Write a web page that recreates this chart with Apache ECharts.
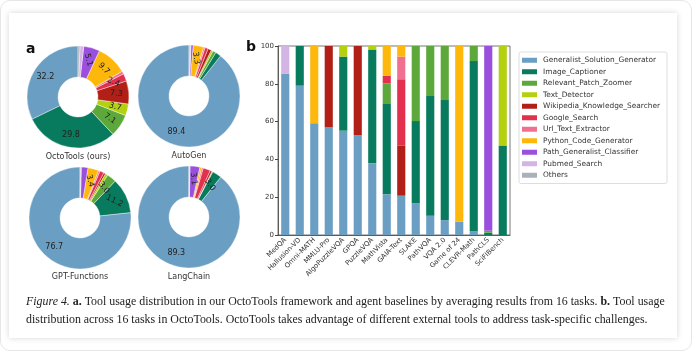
<!DOCTYPE html>
<html><head><meta charset="utf-8">
<script src="https://cdn.jsdelivr.net/npm/echarts@6/dist/echarts.min.js"></script>
<style>
html,body{margin:0;padding:0;background:#fff;width:694px;height:353px;overflow:hidden;}
#frame{position:absolute;left:0;top:0;width:690px;height:349px;border:1px solid #e6e6e6;border-radius:10px;}
#card{position:absolute;left:9px;top:13px;width:668px;height:325px;background:#fff;box-shadow:0 0 6px rgba(0,0,0,0.16);}
#chart{position:absolute;left:0;top:0;width:694px;height:353px;}
</style></head>
<body><div id="frame"></div><div id="card"></div><div id="chart"></div>
<script>
const tools = ['Generalist_Solution_Generator','Image_Captioner','Relevant_Patch_Zoomer','Text_Detector','Wikipedia_Knowledge_Searcher','Google_Search','Url_Text_Extractor','Python_Code_Generator','Path_Generalist_Classifier','Pubmed_Search','Others'];
const toolColors = ['#6a9ec2','#087a5d','#5ca83a','#b3d10e','#b11f16','#e2304e','#f2708f','#fdb80b','#9a4fdd','#d4b4e5','#a9b2ba'];

const agents = ['OctoTools (ours)','AutoGen','GPT-Functions','LangChain'];
const octoToolsShare    = [32.2, 29.8, 7.1, 3.7, 7.3, 2.4, 0.9, 9.7, 5.1, 1.2, 0.6];
const autoGenShare      = [89.4, 1.8, 1.0, 0.6, 1.1, 1.0, 0.5, 3.3, 0.7, 0.3, 0.3];
const gptFunctionsShare = [76.7, 11.2, 3.0, 0.8, 0.6, 1.3, 0.5, 3.4, 2.1, 0.2, 0.2];
const langChainShare    = [89.3, 3.0, 0.3, 0.0, 0.6, 2.3, 0.5, 0.6, 3.1, 0.2, 0.1];

const tasks = ['MedQA','Hallusion-VD','Omni-MATH','MMLU-Pro','AlgoPuzzleVQA','GPQA','PuzzleVQA','MathVista','GAIA-Text','SLAKE','PathVQA','VQA 2.0','Game of 24','CLEVR-Math','PathCLS','SciFIBench'];
const generalistByTask = [85.5, 79.0, 59.1, 57.0, 55.2, 52.9, 37.9, 21.5, 20.8, 16.8, 10.2, 7.9, 7.1, 2.1, 0, 0];
const captionerByTask  = [0, 21.0, 0, 0, 39.2, 0, 60.3, 47.8, 0, 43.5, 63.3, 63.5, 0, 89.9, 1.2, 47.4];
const zoomerByTask     = [0, 0, 0, 0, 0, 0, 0, 10.9, 0, 39.7, 26.5, 28.6, 0, 8.0, 1.0, 0];
const detectorByTask   = [0, 0, 0, 0, 5.6, 0, 1.8, 0, 0, 0, 0, 0, 0, 0, 0, 52.6];
const wikipediaByTask  = [0, 0, 0, 43.0, 0, 47.1, 0, 0, 26.6, 0, 0, 0, 0, 0, 0, 0];
const googleByTask     = [0, 0, 0, 0, 0, 0, 0, 4.1, 35.0, 0, 0, 0, 0, 0, 0, 0];
const urlByTask        = [0, 0, 0, 0, 0, 0, 0, 0, 12.0, 0, 0, 0, 0, 0, 0, 0];
const pythonByTask     = [0, 0, 40.9, 0, 0, 0, 0, 15.7, 5.6, 0, 0, 0, 92.9, 0, 0, 0];
const pathClsByTask    = [0, 0, 0, 0, 0, 0, 0, 0, 0, 0, 0, 0, 0, 0, 97.8, 0];
const pubmedByTask     = [14.5, 0, 0, 0, 0, 0, 0, 0, 0, 0, 0, 0, 0, 0, 0, 0];
const othersByTask     = [0, 0, 0, 0, 0, 0, 0, 0, 0, 0, 0, 0, 0, 0, 0, 0];
const yTicks = [0, 20, 40, 60, 80, 100];

const captionLine1 = '{i|Figure 4.} {b|a.} Tool usage distribution in our OctoTools framework and agent baselines by averaging results from 16 tasks. {b|b.} Tool usage';
const captionLine2 = 'distribution across 16 tasks in OctoTools. OctoTools takes advantage of different external tools to address task-specific challenges.';

const byTask = [generalistByTask, captionerByTask, zoomerByTask, detectorByTask, wikipediaByTask, googleByTask, urlByTask, pythonByTask, pathClsByTask, pubmedByTask, othersByTask];
const shares = [octoToolsShare, autoGenShare, gptFunctionsShare, langChainShare];
const pieCenters = [[78, 97], [189, 96], [80, 218], [189, 217]];
const captionY = [157, 156, 277, 277];

function pieData(vals) {
  const total = vals.reduce((a, b) => a + b, 0);
  let cum = 0;
  return vals.map((v, i) => {
    const mid = 90 + (cum + v / 2) / total * 360;
    cum += v;
    let th = ((mid + 180) % 360) - 180;
    const show = v >= 2;
    const rot = v < 15 ? -Math.abs(th) : 0;
    return {name: tools[i], value: v, itemStyle: {color: toolColors[i]},
      label: {show: show, rotate: rot}};
  });
}

const series = [];
shares.forEach((s, k) => {
  series.push({
    type: 'pie', name: agents[k], center: pieCenters[k], radius: [20, 51],
    startAngle: 90, clockwise: false, animation: false, silent: true,
    itemStyle: {borderColor: '#fff', borderWidth: 0.4},
    label: {position: 'inside', fontSize: 8, color: '#222', fontFamily: 'DejaVu Sans',
      formatter: p => p.value.toFixed(1)},
    labelLine: {show: false},
    data: pieData(s)
  });
});
tools.forEach((t, i) => {
  series.push({
    type: 'bar', name: t, stack: 'total', barWidth: '56%', animation: false,
    itemStyle: {color: toolColors[i]}, data: byTask[i]
  });
});

const capFont = 11.9;
const graphics = [
  {type: 'text', left: 26, top: 42, style: {text: 'a', font: 'bold 14px DejaVu Sans', fill: '#111'}},
  {type: 'text', left: 246, top: 40, style: {text: 'b', font: 'bold 14px DejaVu Sans', fill: '#111'}},
  {type: 'text', left: 26, top: 296, style: {text: captionLine1, font: capFont + 'px Liberation Serif', fill: '#222',
    rich: {i: {fontStyle: 'italic', fontSize: capFont, fontFamily: 'Liberation Serif'}, b: {fontWeight: 'bold', fontSize: capFont, fontFamily: 'Liberation Serif'}}}},
  {type: 'text', left: 26, top: 314, style: {text: captionLine2, font: capFont + 'px Liberation Serif', fill: '#222'}}
];
agents.forEach((a, k) => {
  graphics.push({type: 'text', x: pieCenters[k][0], y: captionY[k],
    style: {text: a, font: '8px DejaVu Sans', fill: '#333', align: 'center', verticalAlign: 'middle'}});
});

const chart = echarts.init(document.getElementById('chart'), null, {renderer: 'canvas'});
chart.setOption({
  backgroundColor: 'transparent',
  animation: false,
  textStyle: {fontFamily: 'DejaVu Sans'},
  grid: {left: 278, top: 46, width: 232, height: 189, show: true, borderColor: '#555', borderWidth: 0.8, backgroundColor: 'transparent'},
  xAxis: {type: 'category', data: tasks, boundaryGap: true,
    axisLine: {lineStyle: {color: '#444', width: 0.8}},
    axisTick: {alignWithLabel: true, length: 3, lineStyle: {color: '#444'}},
    axisLabel: {rotate: 45, fontSize: 6.8, color: '#333', margin: 4, interval: 0}},
  yAxis: {type: 'value', min: 0, max: 100, interval: 20,
    axisLine: {show: true, lineStyle: {color: '#444', width: 0.8}},
    axisTick: {show: true, length: 3, lineStyle: {color: '#444'}},
    axisLabel: {fontSize: 7, color: '#333', margin: 4, customValues: yTicks},
    splitLine: {show: false}},
  legend: {orient: 'vertical', left: 519, top: 52, data: tools,
    itemWidth: 15, itemHeight: 5, itemGap: 3.0, padding: [4, 7, 4, 3],
    borderColor: '#ddd', borderWidth: 1, borderRadius: 2, backgroundColor: '#fff',
    textStyle: {fontSize: 7.4, color: '#333', fontFamily: 'DejaVu Sans', lineHeight: 8.5, padding: [0, 0, 0, 1]},
    icon: 'rect', selectedMode: false},
  graphic: graphics,
  series: series
});
</script></body></html>
